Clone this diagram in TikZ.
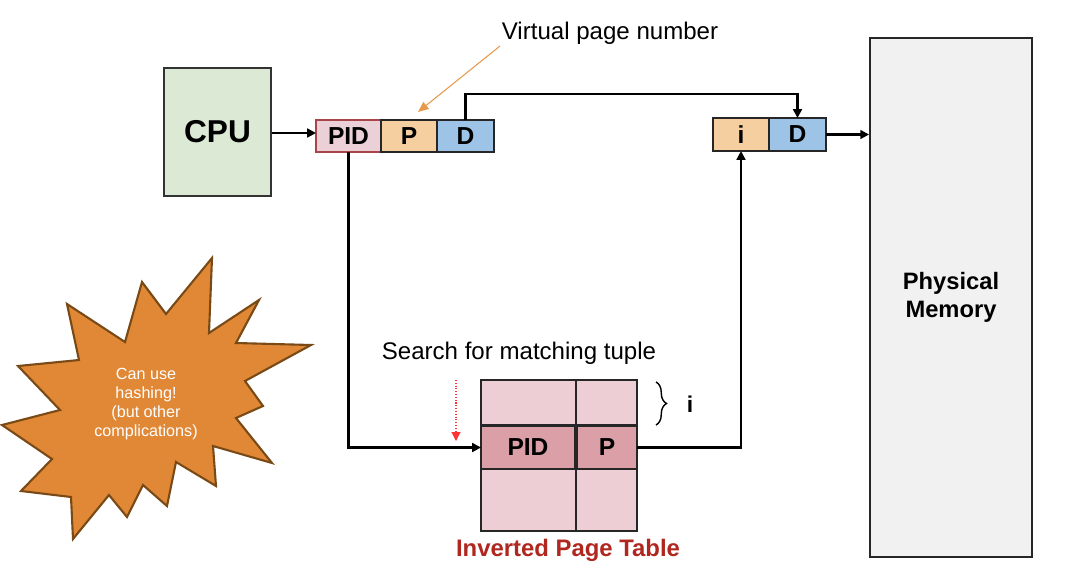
\documentclass[tikz,border=0pt]{standalone}
\usepackage{fontspec}
\setmainfont{Liberation Sans}
\usetikzlibrary{arrows.meta, decorations.pathreplacing}

\definecolor{cpugreen}{HTML}{DCE9D5}
\definecolor{pidpink}{HTML}{EBD0D8}
\definecolor{pidred}{HTML}{A8444A}
\definecolor{pageorange}{HTML}{F6CFA0}
\definecolor{offblue}{HTML}{9DC3E6}
\definecolor{memgray}{HTML}{F1F1F1}
\definecolor{rowpink}{HTML}{EDCED4}
\definecolor{rowdark}{HTML}{DBA0A7}
\definecolor{starorange}{HTML}{E08836}
\definecolor{starbrown}{HTML}{7A4A16}
\definecolor{titlered}{HTML}{B0271F}
\definecolor{hintorange}{HTML}{E69A4C}

\tikzset{
  field/.style={rectangle, draw=black!85, line width=1.1pt, inner sep=0pt, outer sep=0pt, minimum height=0.64cm, font=\bfseries\fontsize{14}{16}\selectfont},
  cell/.style={rectangle, draw=black!85, line width=1pt, fill=rowpink, inner sep=0pt},
  conn/.style={line width=1.4pt, -{Triangle[length=5pt,width=5pt]}},
  plain/.style={font=\fontsize{13.7}{16}\selectfont},
}

\begin{document}
\begin{tikzpicture}[x=0.02cm, y=-0.02cm]
    \useasboundingbox (0,0) rectangle (1092,582);

    % CPU and virtual address
    \node (CPU) [rectangle, draw=black!80, line width=1.1pt, fill=cpugreen, minimum width=2.14cm, minimum height=2.56cm, font=\bfseries\fontsize{18}{20}\selectfont] at (217.5,132) {CPU};
    \node (PID) [field, draw=pidred, fill=pidpink, minimum width=1.30cm] at (348.5,136) {PID};
    \node (P) [field, fill=pageorange, minimum width=1.12cm, anchor=west] at (PID.east) {P};
    \node (D) [field, fill=offblue, minimum width=1.14cm, anchor=west] at (P.east) {D};
    \draw[conn] (CPU.east |- 0,133) -- (PID.west |- 0,133);

    \node (vpn) [plain] at (610,33) {Virtual page number};
    \coordinate (vpnTail) at (500,46);
    \draw[hintorange, line width=0.6pt, -{Triangle[length=6pt,width=5pt]}] (vpnTail) -- (418,112);

    % Physical address
    \node (i) [field, fill=pageorange, minimum width=1.12cm, minimum height=0.66cm] at (741,134.5) {i};
    \node (D2) [field, fill=offblue, minimum width=1.14cm, minimum height=0.66cm, anchor=west] at (i.east) {D};
    \draw[conn] (D.north) -- ++(0,-26) -| (D2.north);

    % Physical memory
    \node (mem) [rectangle, draw=black!85, line width=1.1pt, fill=memgray, minimum width=3.24cm, minimum height=10.4cm, align=center, font=\bfseries\fontsize{13.5}{16}\selectfont] at (951,297.5) {Physical\\Memory};
    \draw[conn] (D2.east) -- (D2.east -| mem.west);

    % Inverted page table
    \node (t1a) [cell, minimum width=1.90cm, minimum height=0.90cm] at (528.5,402.5) {};
    \node (t1b) [cell, minimum width=1.22cm, minimum height=0.90cm] at (606.5,402.5) {};
    \node (t3a) [cell, minimum width=1.90cm, minimum height=1.24cm] at (528.5,500) {};
    \node (t3b) [cell, minimum width=1.22cm, minimum height=1.24cm] at (606.5,500) {};
    \node (tPID) [field, line width=1.3pt, fill=rowdark, minimum width=1.88cm, minimum height=0.86cm] at (528,447.5) {PID};
    \node (tP) [field, line width=1.3pt, fill=rowdark, minimum width=1.20cm, minimum height=0.86cm] at (607,447.5) {P};
    \node (ipt) [font=\bfseries\fontsize{13.6}{16}\selectfont, text=titlered] at (568,550) {Inverted Page Table};

    \node (search) [plain] at (519,353) {Search for matching tuple};
    \coordinate (scanTop) at (456,380);
    \coordinate (scanEnd) at (456,441);
    \draw[red!80, densely dotted, line width=0.6pt, -{Triangle[length=5pt,width=5pt]}] (scanTop) -- (scanEnd);

    \coordinate (braceTop) at (656,382);
    \coordinate (braceBot) at (656,425);
    \draw[line width=0.8pt, decorate, decoration={brace, amplitude=6pt}] (braceTop) -- (braceBot);
    \node (idx) [font=\bfseries\fontsize{13}{16}\selectfont] at (690,404) {i};

    \draw[conn] (PID.south) |- (tPID.west);
    \draw[conn] (tP.east) -| (i.south);

    % Hashing star
    \draw[starbrown, line width=1.2pt, fill=starorange, line join=miter]
        (212,258) -- (209,333) -- (259,300) -- (236,343) -- (311,345) -- (245,381)
        -- (263,406) -- (236,418) -- (272,463) -- (213,446) -- (216,486) -- (176,462)
        -- (167,506) -- (143,485) -- (127,517) -- (109,495) -- (73,539) -- (71,497)
        -- (21,491) -- (52,459) -- (2,425) -- (60,410) -- (18,366) -- (79,360)
        -- (67,304) -- (125,342) -- (142,282) -- (166,314) -- cycle;
    \node (hash) [text=white, align=center, font=\fontsize{9.2}{10.8}\selectfont] at (146,404) {Can use\\hashing!\\(but other\\complications)};
\end{tikzpicture}
\end{document}
